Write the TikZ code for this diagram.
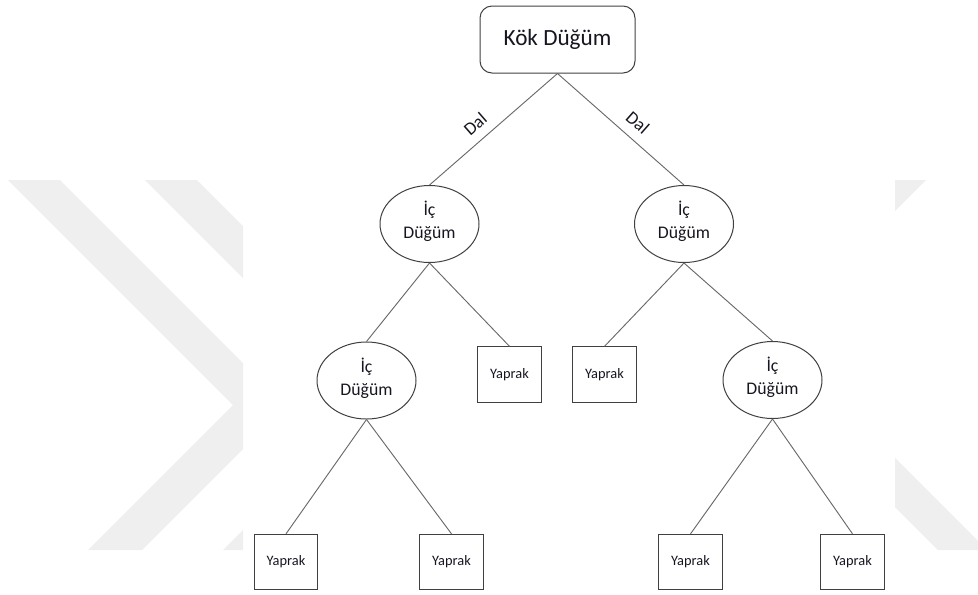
\documentclass[tikz,border=0pt]{standalone}
\usepackage{fontspec}
\setmainfont{Carlito}
\usetikzlibrary{shapes.geometric}
\definecolor{wmgray}{RGB}{239,239,239}
\definecolor{edgegray}{RGB}{105,105,105}
\definecolor{framegray}{RGB}{64,64,64}
\definecolor{txt}{RGB}{22,22,32}
% deepens the last text line so the two-line labels sit a little higher
\newcommand{\liftlabel}{\rule[-6pt]{0pt}{0pt}}

\begin{document}
\begin{tikzpicture}[x=0.75pt,y=-0.75pt,
  rootbox/.style={draw=framegray, line width=0.75pt, rounded corners=9pt,
    minimum width=116.25pt, minimum height=50.25pt, inner sep=0pt,
    font=\fontsize{17.4}{20}\selectfont, text=txt},
  innernode/.style={ellipse, draw=framegray, line width=0.75pt,
    minimum width=74.25pt, minimum height=57.75pt, inner sep=0pt,
    align=center, font=\fontsize{13.3}{17.5}\selectfont, text=txt},
  leaf/.style={draw=framegray, line width=0.75pt,
    minimum width=47.5pt, minimum height=41.5pt, inner sep=0pt,
    font=\fontsize{10.8}{13}\selectfont, text=txt},
  branch/.style={draw=edgegray, line width=0.7pt},
  lbl/.style={sloped, above=7pt, inner sep=0pt,
    font=\fontsize{13.6}{16}\selectfont, text=txt}]

\useasboundingbox (0,0) rectangle (978,594);

% faint chevron watermark around the diagram panel
\fill[wmgray] (8,180) -- (60,180) -- (243,363) -- (243,449) -- (142,550)
  -- (88,550) -- (233,405) -- cycle;
\fill[wmgray] (145,180) -- (197,180) -- (243,226) -- (243,278) -- cycle;
\fill[wmgray] (223,550) -- (243,530) -- (243,550) -- cycle;
\fill[wmgray] (895,180) -- (926,180) -- (895,211) -- cycle;
\fill[wmgray] (895,458) -- (978,541) -- (978,550) -- (938,550) -- (895,507) -- cycle;

% tree nodes
\node[rootbox] (root) at (557.5,39.5) {Kök Düğüm};
\node[innernode] (n1) at (429.5,224) {İç\\Düğüm\liftlabel};
\node[innernode] (n2) at (684,224) {İç\\Düğüm\liftlabel};
\node[innernode] (n3) at (366.5,380.5) {İç\\Düğüm\liftlabel};
\node[innernode] (n4) at (772.5,380) {İç\\Düğüm\liftlabel};
\node[leaf] (y1) at (509.5,374.5) {Yaprak};
\node[leaf] (y2) at (604.5,374.5) {Yaprak};
\node[leaf] (y3) at (286,562) {Yaprak};
\node[leaf] (y4) at (451.5,562) {Yaprak};
\node[leaf] (y5) at (690.5,562) {Yaprak};
\node[leaf] (y6) at (852.5,562) {Yaprak};

% branches
\draw[branch] (root.south) -- node[lbl, pos=0.56] {Dal} (n1.north);
\draw[branch] (root.south) -- node[lbl, pos=0.55] {Dal} (n2.north);
\draw[branch] (n1.south) -- (n3.north);
\draw[branch] (n1.south) -- (y1.north);
\draw[branch] (n2.south) -- (y2.north);
\draw[branch] (n2.south) -- (n4.north);
\draw[branch] (n3.south) -- (y3.north);
\draw[branch] (n3.south) -- (y4.north);
\draw[branch] (n4.south) -- (y5.north);
\draw[branch] (n4.south) -- (y6.north);
\end{tikzpicture}
\end{document}
